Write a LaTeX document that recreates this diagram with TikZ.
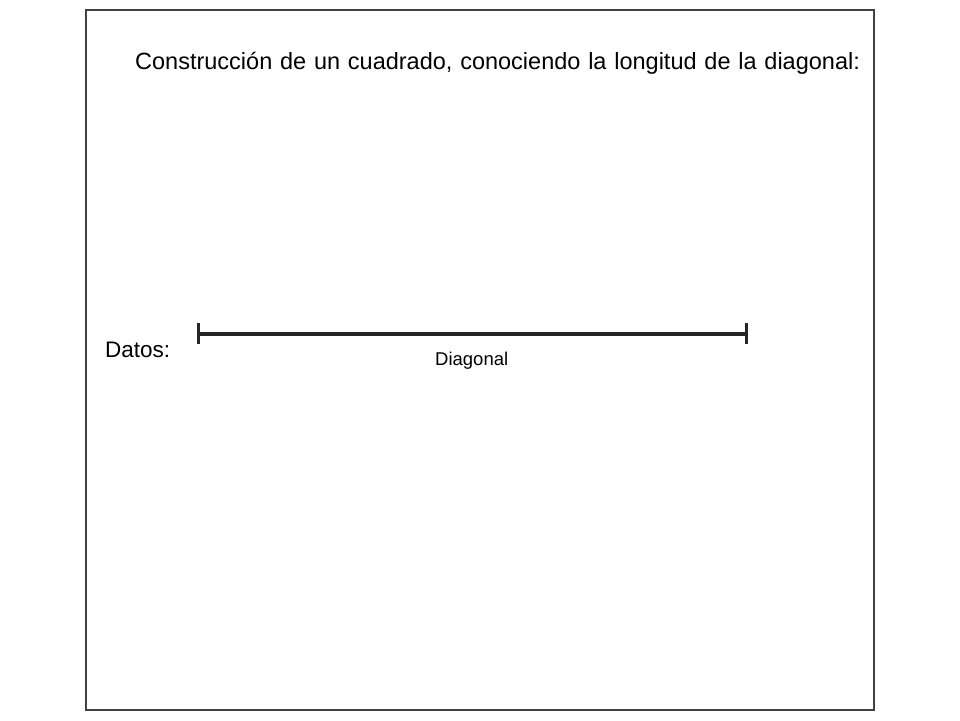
\documentclass[tikz,border=0pt]{standalone}
\usepackage{fontspec}
\setmainfont{Liberation Sans}
\begin{document}
\begin{tikzpicture}[x=1pt,y=1pt,
  frame/.style={draw=black!75,line width=1.8pt},
  seg/.style={draw=black!85,line width=3.2pt},
  tick/.style={draw=black!85,line width=3pt},
  txt/.style={anchor=base west,inner sep=0pt,text=black}]
\useasboundingbox (0,0) rectangle (960,720);
\draw[frame] (86,10) rectangle (874,710);
\node[txt,font=\fontsize{23.5}{27}\selectfont] (title) at (135,650) {\spaceskip=7.8pt plus 0pt minus 0pt Construcción de un cuadrado, conociendo la longitud de la diagonal:};
\node[txt,font=\fontsize{22.5}{26}\selectfont] (datos) at (105,362) {Datos:};
\coordinate (A) at (198,386);
\coordinate (B) at (746,386);
\draw[seg] (A) -- (B);
\draw[tick] ([yshift=10.5pt]A) -- ([yshift=-10.5pt]A);
\draw[tick] ([yshift=10.5pt]B) -- ([yshift=-10.5pt]B);
\node[txt,font=\fontsize{18.5}{22}\selectfont] (diag) at (435,354) {Diagonal};
\end{tikzpicture}
\end{document}
